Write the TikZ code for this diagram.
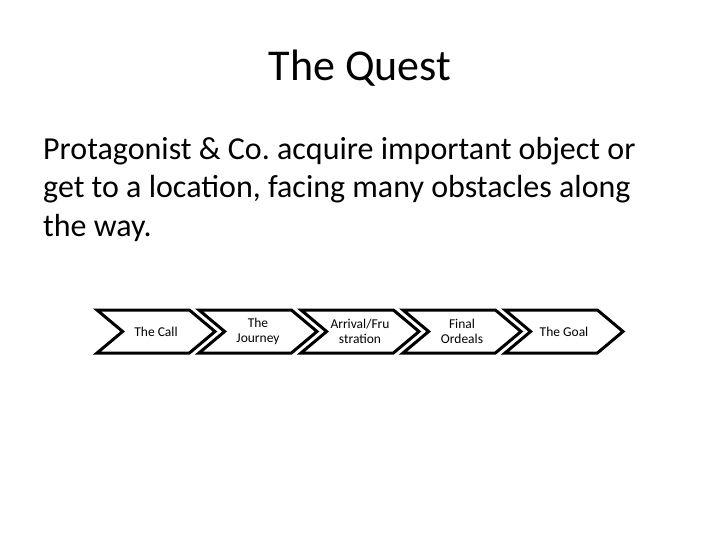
\documentclass[tikz,border=0pt]{standalone}
\usepackage{fontspec}
\setmainfont{Carlito}
\usetikzlibrary{shapes.symbols}

\tikzset{
  stage/.style={signal, signal to=east, signal from=west, signal pointer angle=80,
    draw=black, line width=3pt, fill=white, minimum width=118pt, minimum height=43pt,
    inner sep=0pt, outer sep=0pt, align=center, font=\fontsize{13.5}{14.5}\selectfont}
}

\begin{document}
\begin{tikzpicture}[x=1pt,y=-1pt]
  \useasboundingbox (0,0) rectangle (720,540);

  \node[font=\fontsize{44}{48}\selectfont] (title) at (360,68) {The Quest};
  \node[anchor=north west, align=left, inner sep=0pt, font=\fontsize{32}{38.4}\selectfont] (body) at (43,137)
    {Protagonist \& Co.\ acquire important object or\\
     get to a location, facing many obstacles along\\
     the way.};

  % chevrons
  \node[stage] (call) at (156,331.5) {The Call};
  \node[stage] (journey) at (258,331.5) {The\\Journey};
  \node[stage] (arrival) at (360,331.5) {Arrival/Fru\\stration};
  \node[stage] (ordeals) at (462,331.5) {Final\\Ordeals};
  \node[stage] (goal) at (564,331.5) {The Goal};
\end{tikzpicture}
\end{document}
